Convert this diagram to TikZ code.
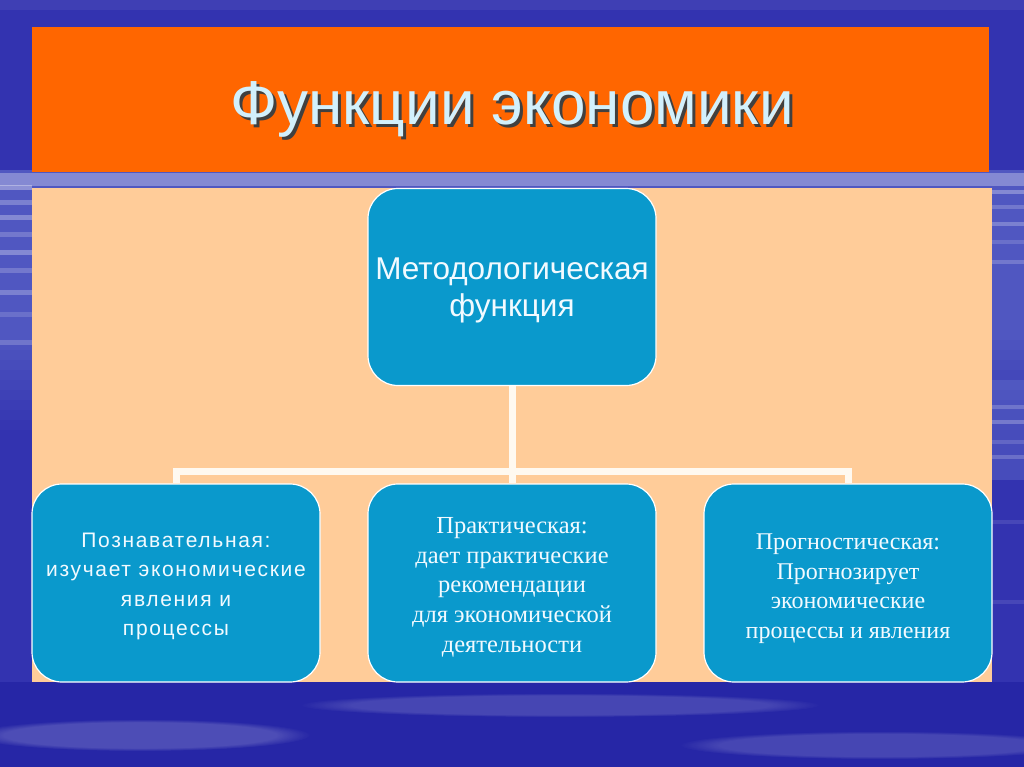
\documentclass[tikz,border=0pt]{standalone}
\usepackage{fontspec}
\setmainfont{Liberation Sans}
\newfontfamily\titlef{Liberation Sans}
\newfontfamily\sansf{Liberation Sans}
\newfontfamily\spacedf[LetterSpace=8]{Liberation Sans}
\newfontfamily\seriff{Liberation Serif}
\usetikzlibrary{fadings}
\definecolor{bgbase}{HTML}{3333B0}
\definecolor{bgdark}{HTML}{2626A6}
\definecolor{bglight}{HTML}{6E7CD2}
\definecolor{titleorange}{HTML}{FF6600}
\definecolor{peach}{HTML}{FFCC99}
\definecolor{boxblue}{HTML}{0A99CC}
\definecolor{boxtext}{HTML}{F2FAFF}
\definecolor{titletext}{HTML}{D2F0FC}
\definecolor{conncol}{HTML}{FFF9F0}
\newcommand{\pushdown}[1]{\rule{0pt}{#1}}
\tikzset{
  fnbox/.style={draw=white, line width=1.2pt, fill=boxblue, rounded corners=30pt,
    minimum width=288pt, minimum height=197pt, inner sep=0pt, align=center, text=boxtext},
  conn/.style={draw=conncol, line width=7pt, line join=miter},
  cloud/.style={white, path fading=circle with fuzzy edge 20 percent}
}
\begin{document}
\begin{tikzpicture}[x=1pt,y=-1pt]
\useasboundingbox (0,0) rectangle (1024,767);
% background
\fill[bgbase] (0,0) rectangle (1024,767);
\fill[bgdark] (0,682) rectangle (1024,767);
\fill[bglight, opacity=0.5] (0,170) rectangle (1024,330);
\foreach \k in {0,...,9}{
  \fill[bglight, opacity=0.5-0.05*\k] (0,330+10*\k) rectangle (1024,340+10*\k);
}
\fill[bglight, opacity=0.35] (992,380) rectangle (1024,480);
\foreach \yy/\op in {185/0.35,200/0.25,215/0.3,232/0.2,250/0.3,268/0.2,290/0.25,312/0.15,340/0.2}{
  \fill[white, opacity=\op] (0,\yy) rectangle (32,\yy+5);
}
\foreach \yy/\op in {190/0.3,205/0.2,222/0.25,240/0.15,260/0.2,405/0.2,420/0.25,440/0.15,455/0.2,520/0.1,600/0.1}{
  \fill[white, opacity=\op] (992,\yy) rectangle (1024,\yy+4);
}
\fill[white, opacity=0.3] (0,173) rectangle (1024,186);
\fill[white, opacity=0.06] (0,0) rectangle (1024,10);
\fill[cloud, opacity=0.18] (140,735) ellipse (170 and 16);
\fill[cloud, opacity=0.15] (560,705) ellipse (260 and 12);
\fill[cloud, opacity=0.15] (880,745) ellipse (200 and 14);
% title bar and panel
\fill[titleorange] (32,27) rectangle (989,172);
\fill[peach] (32,188) rectangle (992,682);
\node[text=black!75, font=\titlef\fontsize{62}{70}\selectfont, anchor=base] (titleshadow) at (515,128) {Функции экономики};
\node[text=titletext, font=\titlef\fontsize{62}{70}\selectfont, anchor=base] (title) at (512,125) {Функции экономики};
% boxes
\node[fnbox, font=\sansf\fontsize{31.5}{37}\selectfont] (top) at (512,287) {\pushdown{29pt}Методологическая\\функция};
\node[fnbox, minimum height=198pt, font=\spacedf\fontsize{21}{29.5}\selectfont] (left) at (176,583) {\pushdown{21pt}Познавательная:\\изучает экономические\\явления и\\процессы};
\node[fnbox, minimum height=198pt, font=\seriff\fontsize{24.5}{29.8}\selectfont] (mid) at (512,583) {\pushdown{24.5pt}Практическая:\\дает практические\\рекомендации\\ для экономической\\деятельности};
\node[fnbox, minimum height=198pt, font=\seriff\fontsize{24}{29.8}\selectfont] (right) at (848,583) {\pushdown{27pt}Прогностическая:\\Прогнозирует\\экономические\\процессы и явления};
% connectors
\coordinate (j) at (512,471.5);
\draw[conn] (top.south) -- (j);
\draw[conn] (left.north) -- (left.north |- j) -- (right.north |- j) -- (right.north);
\draw[conn] (j) -- (mid.north);
\end{tikzpicture}
\end{document}
